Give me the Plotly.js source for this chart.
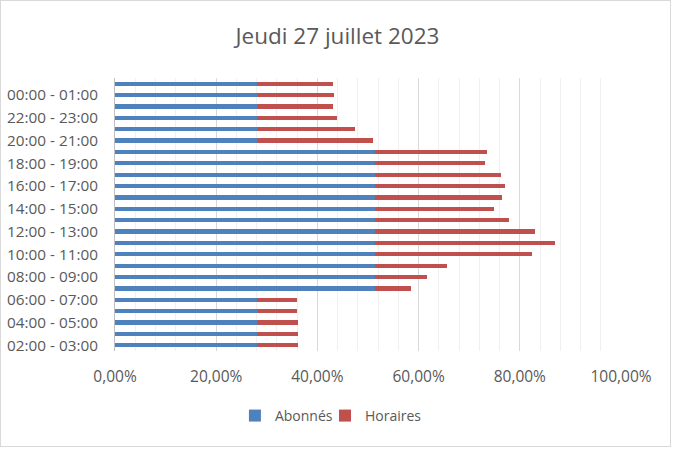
<!DOCTYPE html>
<html>
<head>
<meta charset="utf-8">
<script src="https://cdn.plot.ly/plotly-3.0.1.min.js"></script>
<style>
html,body{margin:0;padding:0;background:#fff;}
#chart{width:675px;height:450px;}
#frame{position:absolute;left:0;top:0;width:669px;height:445px;border:1px solid #d9d9d9;pointer-events:none;}
</style>
</head>
<body>
<div id="chart"></div>
<div id="frame"></div>
<script>
const categories = ["02:00 - 03:00","03:00 - 04:00","04:00 - 05:00","05:00 - 06:00","06:00 - 07:00","07:00 - 08:00",
  "08:00 - 09:00","09:00 - 10:00","10:00 - 11:00","11:00 - 12:00","12:00 - 13:00","13:00 - 14:00",
  "14:00 - 15:00","15:00 - 16:00","16:00 - 17:00","17:00 - 18:00","18:00 - 19:00","19:00 - 20:00",
  "20:00 - 21:00","21:00 - 22:00","22:00 - 23:00","23:00 - 00:00","00:00 - 01:00","01:00 - 02:00"];
const abonnes = [28.0,28.0,28.0,28.0,28.0,51.4,51.4,51.4,51.4,51.4,51.4,51.4,51.4,51.4,51.4,51.4,51.4,51.4,28.0,28.0,28.0,28.0,28.0,28.0];
const horaires = [8.2,8.2,8.2,8.0,8.0,7.1,10.3,14.3,31.1,35.5,31.6,26.4,23.5,25.1,25.6,24.8,21.7,22.1,22.9,19.5,15.8,15.0,15.2,15.0];
const xTicks = [0,20,40,60,80,100];
const yTickLabels = categories.filter((c,i)=>i%2===0);

const font = "'Open Sans', sans-serif";
const traces = [
  {type:'bar', orientation:'h', name:'Abonnés', y:categories, x:abonnes, marker:{color:'#4F81BD'}, legend:'legend'},
  {type:'bar', orientation:'h', name:'Horaires', y:categories, x:horaires, marker:{color:'#C0504D'}, legend:'legend2'}
];
const legendBase = {orientation:'h', xanchor:'left', y:-0.238, yanchor:'middle', itemwidth:30,
  font:{size:14, color:'#595959'}, bgcolor:'rgba(0,0,0,0)', borderwidth:0};
const layout = {
  width:675, height:450,
  margin:{l:115, r:54, t:78, b:99},
  barmode:'stack', bargap:0.62,
  paper_bgcolor:'#fff', plot_bgcolor:'#fff',
  font:{family:font, size:14, color:'#595959'},
  title:{text:'Jeudi 27 juillet 2023', x:0.5, xanchor:'center', y:0.92, yanchor:'middle', font:{family:font, size:22.5, color:'#595959'}},
  xaxis:{range:[0,100], tickvals:xTicks, ticktext:xTicks.map(v=>v.toFixed(2).replace('.',',')+'%'),
    showgrid:true, gridcolor:'#d9d9d9', gridwidth:1, zeroline:false, showline:false, ticks:'', ticklabelstandoff:14,
    minor:{dtick:4, tick0:0, showgrid:true, gridcolor:'#f0f0f0', gridwidth:1},
    tickfont:{size:15.5, color:'#595959'}, fixedrange:true},
  yaxis:{type:'category', categoryorder:'array', categoryarray:categories, range:[-0.5,23.5],
    tickvals:yTickLabels, ticktext:yTickLabels, showgrid:false, zeroline:false,
    showline:true, linecolor:'#bfbfbf', linewidth:1, ticks:'', ticklabelstandoff:13,
    tickfont:{size:15.3, color:'#595959'}, fixedrange:true},
  showlegend:true,
  legend:Object.assign({}, legendBase, {x:0.237}),
  legend2:Object.assign({}, legendBase, {x:0.415})
};
Plotly.newPlot('chart', traces, layout, {displayModeBar:false, staticPlot:true});
</script>
</body>
</html>
